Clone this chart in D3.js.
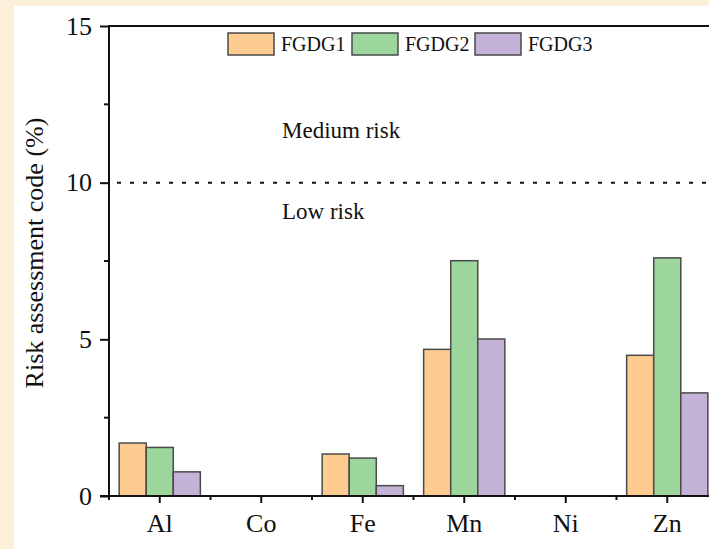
<!DOCTYPE html>
<html>
<head>
<meta charset="utf-8">
<script src="https://cdn.jsdelivr.net/npm/d3@7"></script>
<style>
  body { margin: 0; background: #fdf0da; }
  svg { display: block; }
  text { font-family: "Liberation Serif", "Times New Roman", serif; fill: #111; }
</style>
</head>
<body>
<svg id="chart"></svg>
<script>
// chart data
var elements = ["Al", "Co", "Fe", "Mn", "Ni", "Zn"];
var seriesNames = ["FGDG1", "FGDG2", "FGDG3"];
var fgdg1 = [1.69, 0, 1.34, 4.68, 0, 4.49];
var fgdg2 = [1.55, 0, 1.21, 7.51, 0, 7.60];
var fgdg3 = [0.77, 0, 0.33, 5.01, 0, 3.29];
var yTicks = [0, 5, 10, 15];
var colors = ["#fecb91", "#9dd69c", "#c5b3d7"];

var svgWidth = 709, svgHeight = 549;
var plot = { left: 109, right: 718, top: 26, bottom: 496 };

var svg = d3.select("#chart")
  .attr("width", svgWidth)
  .attr("height", svgHeight);

// white panel over the cream page
svg.append("rect")
  .attr("x", 14).attr("y", 6)
  .attr("width", svgWidth - 14).attr("height", svgHeight - 6)
  .attr("fill", "#ffffff");

var xScale = d3.scaleBand()
  .domain(elements)
  .range([plot.left, plot.right])
  .paddingInner(0.2)
  .paddingOuter(0.1);

var xSub = d3.scaleBand()
  .domain(seriesNames)
  .range([0, xScale.bandwidth()]);

var yScale = d3.scaleLinear()
  .domain([0, 15])
  .range([plot.bottom, plot.top]);

var rows = elements.map(function (el, i) {
  return { el: el, vals: [fgdg1[i], fgdg2[i], fgdg3[i]] };
});

// bars
var groups = svg.selectAll("g.group")
  .data(rows)
  .enter()
  .append("g")
  .attr("class", "group")
  .attr("transform", d => `translate(${xScale(d.el)},0)`);

groups.selectAll("rect")
  .data(d => d.vals.map((v, j) => ({ name: seriesNames[j], v: v, j: j })))
  .enter()
  .filter(d => d.v > 0)
  .append("rect")
  .attr("x", d => xSub(d.name))
  .attr("y", d => yScale(d.v))
  .attr("width", xSub.bandwidth())
  .attr("height", d => yScale(0) - yScale(d.v))
  .attr("fill", d => colors[d.j])
  .attr("stroke", "#4a4a4a")
  .attr("stroke-width", 1.5);

// dotted threshold line at 10
svg.append("line")
  .attr("x1", plot.left + 8).attr("x2", plot.right)
  .attr("y1", yScale(10)).attr("y2", yScale(10))
  .attr("stroke", "#111")
  .attr("stroke-width", 2)
  .attr("stroke-dasharray", "4,9");

svg.append("text")
  .attr("x", 282).attr("y", yScale(11.41))
  .style("font-size", "23px")
  .text("Medium risk");

svg.append("text")
  .attr("x", 282).attr("y", yScale(8.85))
  .style("font-size", "23px")
  .text("Low risk");

// frame top
svg.append("line")
  .attr("x1", plot.left).attr("x2", plot.right)
  .attr("y1", plot.top).attr("y2", plot.top)
  .attr("stroke", "#111").attr("stroke-width", 2);

// y axis
var leftAxis = d3.axisLeft(yScale)
  .tickValues(yTicks)
  .tickSize(9)
  .tickPadding(8)
  .tickFormat(d3.format("d"));

var yAxisG = svg.append("g")
  .attr("transform", `translate(${plot.left},0)`)
  .call(leftAxis);

yAxisG.selectAll(".domain").remove();
yAxisG.selectAll("line").attr("stroke", "#111").attr("stroke-width", 2);
yAxisG.selectAll("text").style("font-size", "26px").attr("fill", "#111");

yAxisG.selectAll("line.minor")
  .data([2.5, 7.5, 12.5])
  .enter()
  .append("line")
  .attr("class", "minor")
  .attr("x1", -5).attr("x2", 0)
  .attr("y1", d => yScale(d)).attr("y2", d => yScale(d))
  .attr("stroke", "#111").attr("stroke-width", 2);

yAxisG.append("line")
  .attr("x1", 0).attr("x2", 0)
  .attr("y1", plot.top - 1).attr("y2", plot.bottom + 1)
  .attr("stroke", "#111").attr("stroke-width", 2);

// x axis
var bottomAxis = d3.axisBottom(xScale)
  .tickSize(7)
  .tickPadding(11);

var xAxisG = svg.append("g")
  .attr("transform", `translate(0,${plot.bottom})`)
  .call(bottomAxis);

xAxisG.selectAll(".domain").remove();
xAxisG.selectAll("line").attr("stroke", "#111").attr("stroke-width", 2);
xAxisG.selectAll("text").style("font-size", "26px").attr("fill", "#111");

var step = xScale.step();
xAxisG.selectAll("line.minor")
  .data(d3.range(elements.length + 1))
  .enter()
  .append("line")
  .attr("class", "minor")
  .attr("x1", i => plot.left + i * step).attr("x2", i => plot.left + i * step)
  .attr("y1", 0).attr("y2", 4)
  .attr("stroke", "#111").attr("stroke-width", 2);

xAxisG.append("line")
  .attr("x1", plot.left - 9).attr("x2", plot.right)
  .attr("y1", 0).attr("y2", 0)
  .attr("stroke", "#111").attr("stroke-width", 2);

// y title
svg.append("text")
  .attr("transform", `translate(43,${(plot.top + plot.bottom) / 2 - 8}) rotate(-90)`)
  .attr("text-anchor", "middle")
  .style("font-size", "26px")
  .text("Risk assessment code (%)");

// legend
var legendX = [228, 352, 475];
var legend = svg.selectAll("g.legend")
  .data(seriesNames)
  .enter()
  .append("g")
  .attr("class", "legend")
  .attr("transform", (d, i) => `translate(${legendX[i]},33)`);

legend.append("rect")
  .attr("width", 46).attr("height", 22)
  .attr("fill", (d, i) => colors[i])
  .attr("stroke", "#4a4a4a").attr("stroke-width", 1.5);

legend.append("text")
  .attr("x", 53).attr("y", 18)
  .style("font-size", "20px")
  .text(d => d);
</script>
</body>
</html>
